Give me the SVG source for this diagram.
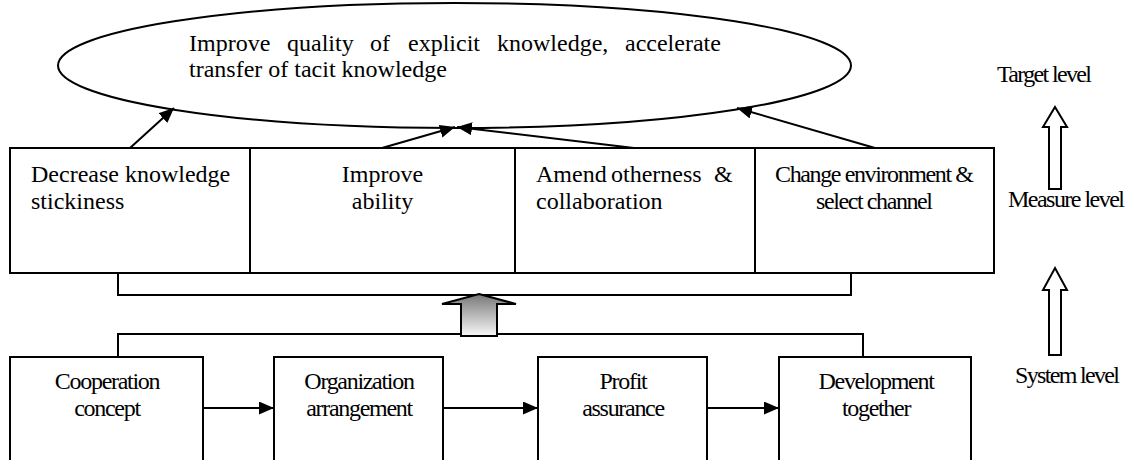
<svg xmlns="http://www.w3.org/2000/svg" width="1131" height="460" viewBox="0 0 1131 460">
<style>
  .box { fill: #fff; stroke: #000; stroke-width: 2; }
  .line { fill: none; stroke: #000; stroke-width: 2; }
  .arr { fill: none; stroke: #000; stroke-width: 2; marker-end: url(#ah); }
  .t { font-family: "Liberation Serif", "Times New Roman", serif; font-size: 24px; fill: #000; }
  .c { text-anchor: middle; }
  .cond { letter-spacing: -1.3px; }
  .hollow { fill: #fff; stroke: #000; stroke-width: 2; }
</style>
<defs>
  <marker id="ah" markerUnits="userSpaceOnUse" markerWidth="16" markerHeight="14" refX="15" refY="6.5" orient="auto">
    <path d="M0,0 L15,6.5 L0,13 z" fill="#000"/>
  </marker>
  <linearGradient id="gray" x1="0" y1="0" x2="0" y2="1">
    <stop offset="0" stop-color="#777"/>
    <stop offset="1" stop-color="#f8f8f8"/>
  </linearGradient>
</defs>

<g id="goal">
  <ellipse class="box" cx="454.5" cy="65.5" rx="396.5" ry="62.5"/>
  <text class="t" y="51"><tspan x="189">Improve</tspan><tspan x="287">quality</tspan><tspan x="370">of</tspan><tspan x="408">explicit</tspan><tspan x="497">knowledge,</tspan><tspan x="625">accelerate</tspan></text>
  <text class="t" x="189" y="77">transfer of tacit knowledge</text>
</g>

<g id="measure1">
  <rect class="box" x="10" y="148" width="240" height="125"/>
  <text class="t" x="31" y="182">Decrease knowledge</text>
  <text class="t" x="31" y="209">stickiness</text>
</g>
<g id="measure2">
  <rect class="box" x="250" y="148" width="265" height="125"/>
  <text class="t c" x="382.5" y="182">Improve</text>
  <text class="t c" x="382.5" y="209">ability</text>
</g>
<g id="measure3">
  <rect class="box" x="515" y="148" width="240" height="125"/>
  <text class="t" y="182"><tspan x="536">Amend</tspan><tspan x="611">otherness</tspan><tspan x="714">&amp;</tspan></text>
  <text class="t" x="536" y="209">collaboration</text>
</g>
<g id="measure4">
  <rect class="box" x="755" y="148" width="239" height="125"/>
  <text class="t" x="775" y="182" textLength="199" lengthAdjust="spacing">Change environment &amp;</text>
  <text class="t" x="816" y="209" textLength="117" lengthAdjust="spacing">select channel</text>
</g>

<g id="system1">
  <rect class="box" x="10" y="357" width="193" height="106"/>
  <text class="t c cond" x="107" y="389">Cooperation</text>
  <text class="t c cond" x="107" y="416">concept</text>
</g>
<g id="system2">
  <rect class="box" x="274" y="357" width="169" height="106"/>
  <text class="t c cond" x="359" y="389">Organization</text>
  <text class="t c cond" x="359" y="416">arrangement</text>
</g>
<g id="system3">
  <rect class="box" x="538" y="357" width="169" height="106"/>
  <text class="t c cond" x="623" y="389">Profit</text>
  <text class="t c cond" x="623" y="416">assurance</text>
</g>
<g id="system4">
  <rect class="box" x="779" y="357" width="192" height="106"/>
  <text class="t c cond" x="876" y="389">Development</text>
  <text class="t c cond" x="876" y="416">together</text>
</g>

<g id="levels">
  <text class="t" x="997" y="82" textLength="95" lengthAdjust="spacing">Target level</text>
  <polygon class="hollow" points="1055,107 1067,127 1061,127 1061,189 1049,189 1049,127 1043,127"/>
  <text class="t" x="1008" y="207" textLength="117" lengthAdjust="spacing">Measure level</text>
  <polygon class="hollow" points="1055,268 1067,290 1061,290 1061,355 1049,355 1049,290 1043,290"/>
  <text class="t" x="1015" y="383" textLength="105" lengthAdjust="spacing">System level</text>
</g>

<g id="connectors">
  <line class="arr" x1="130" y1="148" x2="174" y2="108"/>
  <line class="arr" x1="382" y1="148" x2="455" y2="127"/>
  <line class="arr" x1="634" y1="148" x2="457" y2="127"/>
  <line class="arr" x1="875" y1="148" x2="737" y2="108"/>
  <path class="line" d="M118,273 V295 H851 V273"/>
  <path class="line" d="M118,357 V334 H863 V357"/>
  <polygon points="479,294 516,304 497,304 497,336 461,336 461,304 442,304" fill="url(#gray)" stroke="#000" stroke-width="2"/>
  <line class="arr" x1="203" y1="408" x2="274" y2="408"/>
  <line class="arr" x1="443" y1="408" x2="538" y2="408"/>
  <line class="arr" x1="707" y1="408" x2="779" y2="408"/>
</g>
</svg>
